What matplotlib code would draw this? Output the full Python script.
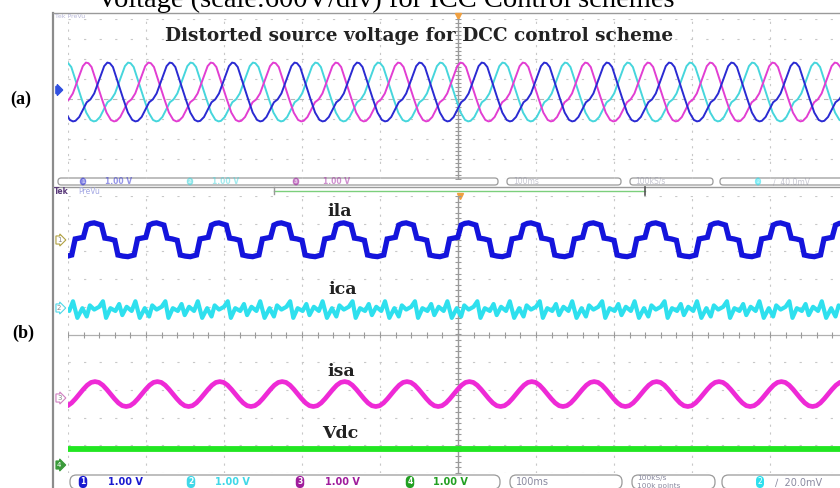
import numpy as np
import matplotlib
matplotlib.use("Agg")
import matplotlib.pyplot as plt
from matplotlib.patches import FancyBboxPatch

# ---- waveform data (one cycle each) ----
period_div = 0.8          # one cycle = 0.8 div (100 ms/div)
n_cycles = 15

# (a) distorted three-phase source voltage, normalised, phase 0 = trough
v_phase = [0.00, 0.04, 0.10, 0.22, 0.28, 0.34, 0.50, 0.55, 0.59, 0.64, 0.80, 0.88, 0.95]
v_shape = [-1.00, -0.98, -0.85, -0.35, -0.25, -0.05, 0.88, 1.00, 0.98, 0.85, -0.20, -0.70, -0.95]
v_amp = 1.47              # div
v_offset = 0.35           # div
v_trough = {"blue": 0.064, "magenta": -0.21, "cyan": 0.33}

# (b) load current ila, phase 0 = start of positive plateau
ila_phase = [0.00, 0.06, 0.12, 0.18, 0.237, 0.29, 0.37, 0.45, 0.50, 0.58, 0.66, 0.76, 0.815, 0.88, 0.947]
ila_shape = [0.52, 0.58, 0.60, 0.56, 0.52, 0.05, 0.02, -0.03, -0.56, -0.60, -0.62, -0.56, 0.02, 0.05, 0.08]
ila_start, ila_offset = 0.24, 3.43

# compensating current ica
ica_phase = [0.00, 0.05, 0.12, 0.20, 0.26, 0.31, 0.38, 0.46, 0.52, 0.57, 0.64, 0.72, 0.78, 0.85, 0.93]
ica_shape = [-0.25, 0.15, 0.00, 0.10, 0.30, -0.30, 0.05, -0.05, 0.20, -0.20, 0.10, -0.05, 0.30, -0.30, 0.05]
ica_start, ica_offset = 0.24, 0.90

# source current isa (sinusoidal)
isa_phase = [k / 16 for k in range(16)]
isa_shape = [0.0, 0.17, 0.32, 0.42, 0.45, 0.42, 0.32, 0.17, 0.0, -0.17, -0.32, -0.42, -0.45, -0.42, -0.32, -0.17]
isa_start, isa_offset = 0.146, -2.15

# dc link voltage
vdc_x = [0.0, 10.0]
vdc_y = [-4.12, -4.12]

channel_scale = ["1.00 V", "1.00 V", "1.00 V", "1.00 V"]
timebase = "100ms"
sample_rate = "100kS/s"
record = "100k points"

col_blue, col_cyan, col_mag, col_green = "#1414dc", "#2ee0ee", "#ee2ad6", "#22e622"


def tile(phase, shape, start):
    ph = np.array(phase)
    x = np.concatenate([start + (k + ph) * period_div for k in range(-2, n_cycles)])
    y = np.tile(shape, n_cycles + 2)
    return x, y


fig = plt.figure(figsize=(8.4, 4.88), dpi=100)
bg = fig.add_axes([0, 0, 1, 1])
bg.set_xlim(0, 840)
bg.set_ylim(488, 0)
bg.axis("off")


def px_axes(x0, y0, x1, y1):
    ax = fig.add_axes([x0 / 840, 1 - y1 / 488, (x1 - x0) / 840, (y1 - y0) / 488])
    ax.set_facecolor("none")
    ax.axis("off")
    return ax


xmax = (840 - 68) / 78
ax_a = px_axes(68, 19, 840, 179)
ax_a.set_xlim(0, xmax)
ax_a.set_ylim(-4, 4)
ax_b = px_axes(68, 196, 840, 473)
ax_b.set_xlim(0, xmax)
ax_b.set_ylim(-5, 5)


def graticule(ax, nrows, center_solid):
    for i in range(0, 11):
        if i == 5:
            continue
        ax.axvline(i, color="#c8c8c8", lw=0.8, ls=(0, (2, 5)), zorder=1)
    for j in range(-nrows, nrows + 1):
        if j == 0:
            continue
        ax.axhline(j, color="#c8c8c8", lw=0.8, ls=(0, (2, 12)), zorder=1)
    ax.axvline(5, color="#9a9a9a", lw=1.0, zorder=1)
    ticks_y = np.arange(-nrows, nrows + 0.01, 0.2)
    ax.plot(np.full_like(ticks_y, 5), ticks_y, ls="none", marker="_", ms=4, color="#9a9a9a", mew=0.8)
    if center_solid:
        ax.axhline(0, color="#b0b0b0", lw=0.9, zorder=1)
        ticks_x = np.arange(0, 10.01, 0.2)
        ax.plot(ticks_x, np.zeros_like(ticks_x), ls="none", marker="|", ms=4, color="#9a9a9a", mew=0.8)
    else:
        ax.axhline(0, color="#b8b8b8", lw=0.8, ls=(0, (4, 4)), zorder=1)


graticule(ax_a, 4, False)
graticule(ax_b, 5, True)

# ---- panel (a) traces ----
for name, col in [("cyan", "#46d6dc"), ("magenta", "#e23ed2"), ("blue", "#2a2ad2")]:
    x, y = tile(v_phase, v_shape, v_trough[name])
    ax_a.plot(x, v_offset + v_amp * y, color=col, lw=1.4, zorder=3)

# ---- panel (b) traces ----
x, y = tile(ila_phase, ila_shape, ila_start)
ax_b.plot(x, ila_offset + y, color=col_blue, lw=3.8, zorder=3, solid_joinstyle="miter")
x, y = tile(ica_phase, ica_shape, ica_start)
ax_b.plot(x, ica_offset + y, color=col_cyan, lw=3.0, zorder=3)
x, y = tile(isa_phase, isa_shape, isa_start)
ax_b.plot(x, isa_offset + np.array(y), color=col_mag, lw=3.4, zorder=3)
ax_b.plot(vdc_x, vdc_y, color=col_green, lw=4.2, zorder=3)

# ---- scope frame ----
bg.plot([53, 53], [13, 488], color="#8c8c8c", lw=1.6)
bg.plot([53, 840], [13, 13], color="#9a9a9a", lw=1.0)
bg.plot([53, 840], [186.5, 186.5], color="#9a9a9a", lw=1.0)
bg.plot([274, 645], [191, 191], color="#7ccf7c", lw=1.0)
bg.plot([274, 274], [187, 194], color="#999999", lw=1.0)
bg.plot([645, 645], [187, 195], color="#555555", lw=1.2)
bg.plot([458], [15.5], marker="v", color="#f0a040", ms=4)
bg.plot([460], [196], marker="v", color="#f0a040", ms=5)
bg.text(55, 16, "Tek PreVu", fontsize=4.5, color="#b8b8d8", va="center", family="DejaVu Sans")
bg.text(54, 191, "Tek", fontsize=5.5, color="#5a3a7a", fontweight="bold", va="center", family="DejaVu Sans")
bg.text(78, 191, "PreVu", fontsize=5.5, color="#a4a8e4", va="center", family="DejaVu Sans")


def status_bar(y0, h, boxes, badge_x, text_x, fs, faded, cols, volts, trig, two_lines):
    a = 0.5 if faded else 1.0
    for x0, x1 in boxes:
        bg.add_patch(FancyBboxPatch((x0, y0), x1 - x0, h, boxstyle="round,pad=0,rounding_size=%g" % (h / 2.2),
                                    fc="white", ec="#9a9a9a", lw=0.9))
    yc = y0 + h / 2
    for col, v, bx, tx, num in zip(cols, volts, badge_x, text_x, "1234"):
        bg.text(bx, yc, num, fontsize=fs - 1.5, color="white", ha="center", va="center",
                fontweight="bold", alpha=a,
                bbox=dict(boxstyle="round,pad=0.12,rounding_size=0.5", fc=col, ec=col, alpha=a))
        bg.text(tx, yc, v, fontsize=fs, color=col, va="center", fontweight="bold",
                family="DejaVu Sans", alpha=a)
    bg.text(boxes[1][0] + 6, yc, timebase, fontsize=fs, color="#8a8aa0", va="center",
            family="DejaVu Sans", alpha=a)
    if two_lines:
        bg.text(boxes[2][0] + 5, y0 + 3, sample_rate, fontsize=5.3, color="#8a8aa0", va="center",
                family="DejaVu Sans")
        bg.text(boxes[2][0] + 5, y0 + 10.8, record, fontsize=5.3, color="#8a8aa0", va="center",
                family="DejaVu Sans")
    else:
        bg.text(boxes[2][0] + 5, yc, sample_rate, fontsize=fs, color="#8a8aa0", va="center",
                family="DejaVu Sans", alpha=a)
    bg.text(boxes[3][0] + 38, yc, "2", fontsize=fs - 1.5, color="white", ha="center", va="center", alpha=a,
            bbox=dict(boxstyle="round,pad=0.12,rounding_size=0.5", fc=col_cyan, ec=col_cyan, alpha=a))
    bg.text(boxes[3][0] + 53, yc, "\u2215  " + trig, fontsize=fs, color="#8a8aa0", va="center",
            family="DejaVu Sans", alpha=a)


status_bar(178, 7, [(58, 498), (507, 621), (630, 713), (720, 860)],
           [83, 190, 296], [105, 212, 323], 5.5, True,
           ["#2a2ad2", "#46d6dc", "#a020a0"], channel_scale[:3], "40.0mV", False)
status_bar(475, 14, [(70, 500), (510, 622), (632, 715), (722, 860)],
           [83, 191, 300, 410], [108, 215, 325, 433], 7, False,
           ["#1a1ad0", "#40d8e8", "#a01c9c", "#22a022"], channel_scale, "20.0mV", True)

# channel markers on the left edge
bg.text(57, 90, " ", fontsize=4, va="center",
        bbox=dict(boxstyle="rarrow,pad=0.2", fc="#3050e0", ec="#3050e0"))
for lab, yy, ec, fc in [("1", 240, "#b0a040", "white"), ("2", 308, "#50d8e8", "white"),
                        ("3", 398, "#d080c0", "white"), ("4", 465, "#3a9a3a", "#3a9a3a")]:
    bg.text(57, yy, lab, fontsize=5, va="center", color="#888888" if fc == "white" else "white",
            bbox=dict(boxstyle="rarrow,pad=0.15", fc=fc, ec=ec, lw=0.8))

# ---- figure texts ----
bg.text(97, 7, "Voltage (scale:600V/div) for ICC Control schemes", fontsize=20.5,
        family="Liberation Serif", va="baseline", color="black")
bg.text(165, 36, "Distorted source voltage for DCC control scheme", fontsize=13.3, family="DejaVu Serif",
        fontweight="bold", va="center", color="#222222")
bg.text(10, 99, "(a)", fontsize=13, family="Liberation Serif", fontweight="bold", va="center")
bg.text(12, 333, "(b)", fontsize=13, family="Liberation Serif", fontweight="bold", va="center")
for lab, xx, yy in [("ila", 327, 211), ("ica", 328, 290), ("isa", 327, 372), ("Vdc", 322, 433)]:
    bg.text(xx, yy, lab, fontsize=12.5, family="DejaVu Serif", fontweight="bold", va="center",
            color="#222222")

fig.savefig("out.png", dpi=100)
